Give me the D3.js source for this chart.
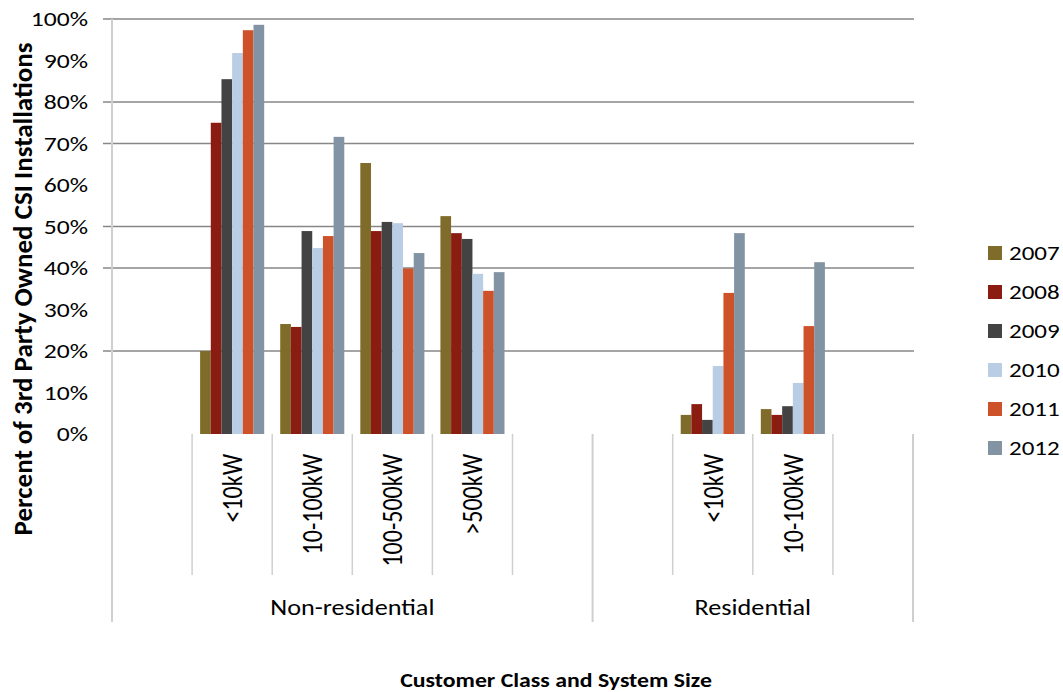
<!DOCTYPE html>
<html>
<head>
<meta charset="utf-8">
<script src="https://cdn.jsdelivr.net/npm/d3@7"></script>
<style>
  html, body { margin: 0; padding: 0; background: #fff; }
  svg { display: block; }
  text { font-family: Carlito, Lato, "Open Sans", sans-serif; fill: #000; }
</style>
</head>
<body>
<svg id="chart" width="1063" height="692"></svg>
<script>
// Customer classes and the size bins within them (blank slots are spacer categories)
const groups = ["Non-residential", "Residential"];
const slotGroup = [0, 0, 0, 0, 0, 0, 1, 1, 1, 1];
const sizeLabels = ["", "<10kW", "10-100kW", "100-500kW", ">500kW", "", "", "<10kW", "10-100kW", ""];

// Series: share of third-party owned installations (%) per slot
const years = ["2007", "2008", "2009", "2010", "2011", "2012"];
const v2007 = [null, 20.0, 26.5, 65.3, 52.5, null, null, 4.6, 6.0, null];
const v2008 = [null, 75.0, 25.8, 48.9, 48.4, null, null, 7.2, 4.6, null];
const v2009 = [null, 85.5, 48.9, 51.1, 47.0, null, null, 3.4, 6.7, null];
const v2010 = [null, 91.8, 44.8, 50.8, 38.6, null, null, 16.4, 12.3, null];
const v2011 = [null, 97.3, 47.7, 39.9, 34.5, null, null, 34.0, 26.0, null];
const v2012 = [null, 98.6, 71.6, 43.6, 39.0, null, null, 48.4, 41.4, null];
const seriesValues = [v2007, v2008, v2009, v2010, v2011, v2012];

// Axis ticks
const yTickValues = [0, 10, 20, 30, 40, 50, 60, 70, 80, 90, 100];
const gridValues = [20, 40, 50, 70, 80, 100];

const colors = ["#7f6c2a", "#8b1c12", "#434343", "#b9cde5", "#cd5229", "#8293a3"];

const SX = 1.22; // horizontal glyph stretch used for all labels

const svg = d3.select("#chart");
const plotL = 112, plotR = 913, plotT = 19, plotB = 434;

const x = d3.scaleBand().domain(d3.range(sizeLabels.length)).range([plotL, plotR]).padding(0);
const xInner = d3.scaleBand().domain(years).range([0, x.bandwidth()]).paddingInner(0).paddingOuter(0.75);
const y = d3.scaleLinear().domain([0, 100]).range([plotB, plotT]);

function label(parent, px, py, str, opts = {}) {
  const g = parent.append("g")
    .attr("transform", `translate(${px},${py}) scale(${opts.sx || SX},1)` + (opts.rotate ? " rotate(-90)" : ""));
  return g.append("text")
    .attr("text-anchor", opts.anchor || "middle")
    .attr("dominant-baseline", opts.baseline || "central")
    .style("font-size", opts.size + "px")
    .style("font-weight", opts.bold ? "bold" : "normal")
    .text(str);
}

// Horizontal gridlines with outside tick marks
const grid = svg.append("g");
grid.selectAll("line").data(gridValues).join("line")
  .attr("x1", plotL - 9).attr("x2", plotR + 1)
  .attr("y1", d => y(d)).attr("y2", d => y(d))
  .attr("stroke", "#878787").attr("stroke-width", 1.3);

// Y tick labels
const yLabels = svg.append("g");
yTickValues.forEach(v => label(yLabels, 88, y(v), v + "%", { anchor: "end", size: 21 }));

// Bars
const bars = svg.append("g");
years.forEach((yr, si) => {
  const data = seriesValues[si].map((v, i) => ({ i, v })).filter(d => d.v !== null);
  bars.append("g").selectAll("rect").data(data).join("rect")
    .attr("x", d => x(d.i) + xInner(yr))
    .attr("width", xInner.bandwidth())
    .attr("y", d => y(d.v))
    .attr("height", d => y(0) - y(d.v))
    .attr("fill", colors[si]);
});

// Category separators: inner between size bins, outer between classes
const sepColor = "#cfcfcf";
const bounds = d3.range(sizeLabels.length + 1);
const isOuter = b => b === 0 || b === sizeLabels.length || slotGroup[b] !== slotGroup[b - 1];
const seps = svg.append("g");
bounds.forEach(b => {
  const bx = b === sizeLabels.length ? plotR : x(b);
  const outer = isOuter(b);
  seps.append("line")
    .attr("x1", bx).attr("x2", bx)
    .attr("y1", b === 0 ? plotT : plotB)
    .attr("y2", outer ? 622 : 575)
    .attr("stroke", sepColor).attr("stroke-width", outer ? 2 : 1.5);
});

// Rotated size labels
const catLabels = svg.append("g");
sizeLabels.forEach((s, i) => {
  if (!s) return;
  label(catLabels, x(i) + x.bandwidth() / 2, 454, s, { rotate: true, anchor: "end", size: 24 });
});

// Class labels
groups.forEach((gName, gi) => {
  const idx = slotGroup.map((g, i) => g === gi ? i : -1).filter(i => i >= 0);
  const x0 = x(idx[0]), x1 = x(idx[idx.length - 1]) + x.bandwidth();
  label(svg, (x0 + x1) / 2, 607, gName, { size: 21.5 });
});

// Axis titles
label(svg, 556, 680, "Customer Class and System Size", { size: 19.5, bold: true });
label(svg, 22, 289, "Percent of 3rd Party Owned CSI Installations", { size: 27, bold: true, rotate: true, sx: 1 });

// Legend
const legend = svg.append("g");
years.forEach((yr, i) => {
  const cy = 253 + i * 39;
  legend.append("rect").attr("x", 988).attr("y", cy - 7).attr("width", 14).attr("height", 14).attr("fill", colors[i]);
  label(legend, 1009, cy, yr, { anchor: "start", size: 20.5 });
});
</script>
</body>
</html>
